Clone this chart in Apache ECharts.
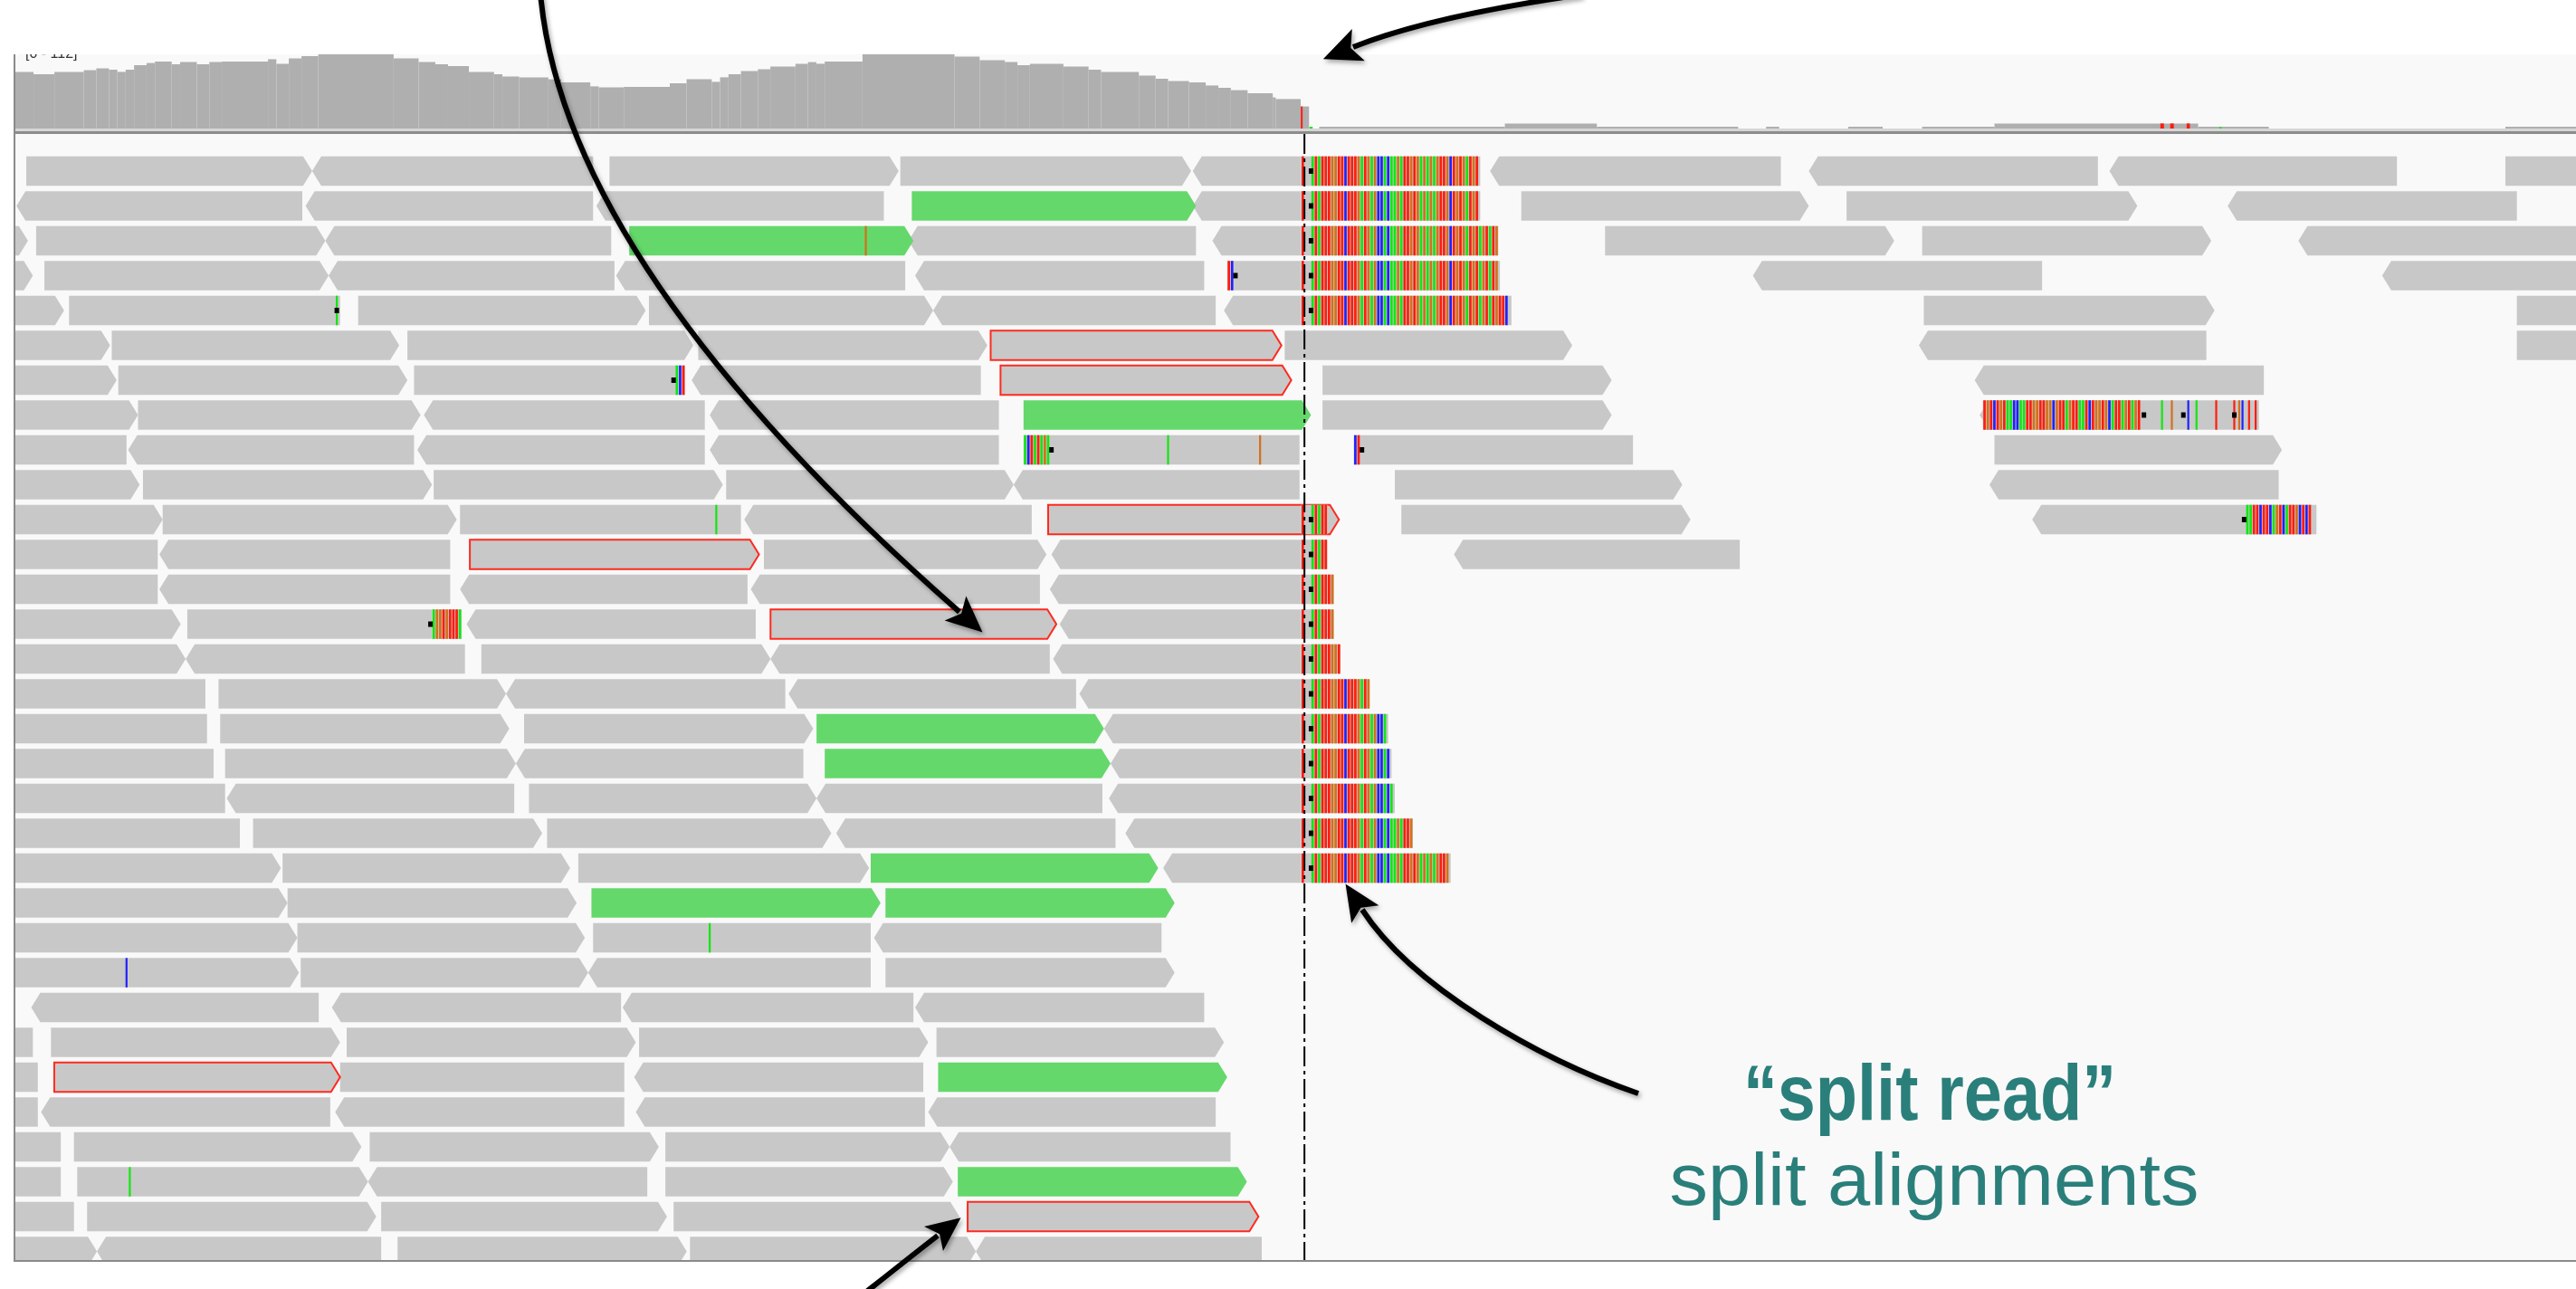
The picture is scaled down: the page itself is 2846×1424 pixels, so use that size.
<!DOCTYPE html>
<html><head><meta charset="utf-8">
<script src="https://cdn.jsdelivr.net/npm/echarts@6/dist/echarts.min.js"></script>
<style>html,body{margin:0;padding:0;background:#fff;}#c{width:2846px;height:1424px;}</style>
</head><body><div id="c"></div>
<script>
// ---------------- data (positions in window units, rows 0 = top) ----------------
const X_MIN = 8.8, X_MAX = 1568;
const BREAKPOINT = 794;
const BW = 2; // one base in window units

// coverage track: step boundaries and depth of each step
const COV_X = [9.2,20.4,33.1,51,58.6,66.3,71.4,76.5,81.6,89.2,94.3,104.5,109.6,119.8,127.4,135,163.1,168.2,175.8,183.5,193.7,239.6,254.8,265,272.7,285.4,300.7,305.8,316,333.8,341.5,359.3,364.4,379.7,407.7,417.9,433.2,438.3,443.4,451,461.3,468.9,484.2,491.8,496.9,502,525,581,596.3,611.6,619.3,626.9,647.3,662.6,670.2,693.2,703.4,711,723.7,733.9,741.6,749.2,759.4,774.7,776.5,791.7,796.8,803,916,972,1058,1075,1083,1125,1146,1170,1214,1338,1381,1525,1568];
const COV_DEPTH = [31.3,30,31.3,32.2,33.3,32.5,31.3,32.5,35,36.2,37,35.5,36.7,35.5,36.7,37,38.3,35.8,38.8,40,42,38.8,36.7,35.5,34.5,31.3,30,28.8,28.3,27.2,25.5,23.3,22.8,23,25,27.2,25.8,28.3,30,31.7,32.8,34.2,35.8,36.7,35.8,37,42,39.7,37.8,36.7,35,35.8,34.2,32.5,31.3,29.2,27.5,26.2,25.5,23.8,22.5,21.2,19.5,17.2,16.3,12.2,0,1,2.8,1,0,1,0,1,0,1,2.8,1,0,1];
const COV_MAX = 41;
// coloured allele bars in coverage: [pos, width, depth, base]
const COV_ALLELES = [[791.8,1.1,12.2,'T'],[797,2,1,'A'],[1315,2.2,2.8,'T'],[1321,2.2,2.8,'T'],[1331,2,2.8,'T'],[1351,1.2,1,'A']];

// reads: [row, start, end, strand(1 right,-1 left,0 none)]
const READS_GREY = [
[0,16,190,1],[0,190,361,-1],[0,371,547,1],[0,548,725,1],[0,726,792,-1],[0,907,1084,-1],[0,1101,1277,-1],[0,1284,1459,-1],[0,1525,1600,0],
[1,10,184,-1],[1,186,361,-1],[1,363,538,-1],[1,726,792,-1],[1,926,1101,1],[1,1124,1301,1],[1,1356,1532,-1],
[2,-20,17,1],[2,22,198,1],[2,198,372,-1],[2,553,728,-1],[2,738,792,-1],[2,977,1153,1],[2,1170,1346,1],[2,1399,1600,-1],
[3,-20,20,1],[3,27,200,1],[3,200,374,-1],[3,375,551,-1],[3,557,733,-1],[3,751,792,0],[3,1067,1243,-1],[3,1450,1600,-1],
[4,-20,39,1],[4,42,207,0],[4,218,393,1],[4,395,568,1],[4,568,740,-1],[4,745,792,-1],[4,1171,1348,1],[4,1532,1600,0],
[5,-20,67,1],[5,68,243,1],[5,248,422,1],[5,425,601,1],[5,782,957,1],[5,1168,1343,-1],[5,1532,1600,0],
[6,-20,71,1],[6,72,248,1],[6,252,411,0],[6,421,597,-1],[6,805,981,1],[6,1202,1378,-1],
[7,-20,84,1],[7,84,256,1],[7,258,429,-1],[7,432,608,-1],[7,805,981,1],[7,1205,1375,-1],
[8,-20,77,0],[8,78,252,-1],[8,254,429,-1],[8,432,608,-1],[8,639,791,0],[8,828,994,0],[8,1214,1389,1],
[9,-20,85,1],[9,87,263,1],[9,264,440,1],[9,442,617,1],[9,617,791,-1],[9,849,1024,1],[9,1211,1387,-1],
[10,-20,99,1],[10,99,278,1],[10,280,451,0],[10,453,628,-1],[10,853,1029,1],[10,1237,1410,-1],
[11,-20,96,0],[11,97,274,-1],[11,465,637,1],[11,640,792,-1],[11,885,1059,-1],
[12,-20,96,0],[12,97,274,-1],[12,280,455,-1],[12,457,633,-1],[12,639,792,-1],
[13,-20,110,1],[13,114,263,0],[13,284,460,-1],[13,645,792,-1],
[14,-20,113,1],[14,113,283,-1],[14,293,469,1],[14,469,639,-1],[14,641,792,-1],
[15,-20,125,0],[15,133,308,1],[15,308,478,-1],[15,480,655,-1],[15,657,792,-1],
[16,-20,126,0],[16,134,310,1],[16,319,495,1],[16,672,792,-1],
[17,-20,130,0],[17,137,314,1],[17,314,489,-1],[17,676,792,-1],
[18,-20,137,0],[18,138,313,-1],[18,322,497,1],[18,497,671,-1],[18,675,792,-1],
[19,-20,146,0],[19,154,330,1],[19,333,506,1],[19,509,679,-1],[19,685,792,-1],
[20,-20,171,1],[20,172,347,1],[20,352,529,1],[20,708,792,-1],
[21,-20,175,1],[21,175,351,1],
[22,-20,181,1],[22,181,356,1],[22,361,530,0],[22,532,707,-1],
[23,-20,182,1],[23,183,358,1],[23,358,530,-1],[23,539,715,1],
[24,19,194,-1],[24,202,378,-1],[24,379,556,-1],[24,557,733,-1],
[25,-20,20,0],[25,31,207,1],[25,211,387,1],[25,389,565,1],[25,570,745,1],
[26,-20,23,0],[26,207,380,0],[26,386,562,-1],
[27,-20,23,0],[27,25,201,-1],[27,204,380,-1],[27,387,563,-1],[27,565,740,-1],
[28,-20,37,0],[28,45,220,1],[28,225,401,1],[28,405,578,1],[28,578,749,-1],
[29,-20,37,0],[29,47,224,1],[29,224,394,-1],[29,405,580,1],
[30,-20,45,0],[30,53,229,1],[30,232,406,1],[30,410,584,1],
[31,-20,59,1],[31,59,232,-1],[31,242,418,1],[31,420,594,1],[31,594,768,-1]
];
const READS_GREEN = [[1,555,728,1],[2,383,556,1],[7,623,798,1],[16,497,672,1],[17,502,676,1],[20,530,705,1],[21,360,536,1],[21,539,715,1],[26,571,747,1],[29,583,759,1]];
const READS_RED = [[5,603,780,1],[6,609,786,1],[10,638,815,1],[11,286,462,1],[13,469,643,1],[26,33,207,1],[30,589,766,1]];

// split reads: soft-clipped sequence after the breakpoint
const SPLIT_START = 792;
const SPLIT_SEQ = "T--ATATTTGGTTCTTTGATGAGCCACAAGATTGTGAGAGAGTTGCTGTGATGTAGTATGTTC";
const SPLIT_ROWS = [0,1,2,3,4,10,11,12,13,14,15,16,17,18,19,20];
const SPLIT_ENDS = [901,901,912,913,920,808,808,812,812,816,833,845,847,849,860,883];
const SPLIT_MARK = 798;
// other soft clips: [row, start, sequence]
const CLIPS = [[3,747,'TC'],[6,411,'ACT'],[8,623,'ACTATAGA'],[8,824,'CT'],[13,263,'AGGTGTTTA'],
  [7,1207,'TGTCTGTAACCAATTGGTTGGCGTTAGTTAATCTGGTGCATTAGTAGT'],[10,1367,'AATTCTTCAGTCATTGCTCT']];
// single-base mismatches: [row, pos, base]
const MISMATCHES = [[2,527,'G'],[4,205,'A'],[8,711,'A'],[8,767,'G'],[10,436,'A'],[22,432,'A'],[23,77,'C'],[29,79,'A'],
  [7,1316,'A'],[7,1322,'G'],[7,1332,'C'],[7,1337,'A'],[7,1349,'T'],[7,1360,'T'],[7,1363,'G'],[7,1365,'C'],[7,1369,'T'],[7,1373,'T']];
// insertion / clip-junction markers: [row, pos]
const MARKS = [[3,752],[4,205],[6,410],[8,640],[8,829],[13,262],[7,1305],[7,1329],[7,1360],[10,1366]];

const BASE_COLORS = {A:'#12e612', C:'#2020ff', G:'#d2711a', T:'#ff1c0c'};
const GREY = '#c8c8c8', GREEN = '#65d86b', RED = '#ff2a1f';

// ---------------- build items ----------------
const covItems = COV_DEPTH.map((d, i) => [COV_X[i], COV_X[i + 1], d]);
const clipItems = SPLIT_ROWS.map((r, i) => ({row: r, start: SPLIT_START, end: SPLIT_ENDS[i], seq: SPLIT_SEQ}))
  .concat(CLIPS.map(c => ({row: c[0], start: c[1], end: c[1] + c[2].length * BW, seq: c[2]})));
const markItems = SPLIT_ROWS.map(r => [r, SPLIT_MARK]).concat(MARKS);

function rowGeom(api, row) {
  const pitch = Math.abs(api.size([0, 1])[1]);
  const yc = api.coord([0, row])[1];
  const h = pitch * 0.845;
  return {yc, top: yc - h / 2, h};
}
function readRenderer(fill, stroke) {
  return function (params, api) {
    const row = api.value(0), s = api.value(1), e = api.value(2), strand = api.value(3);
    const g = rowGeom(api, row);
    const x0 = api.coord([s, row])[0], x1 = api.coord([e, row])[0];
    const top = g.top, bot = g.top + g.h, yc = g.yc;
    const tip = Math.min(10, (x1 - x0) / 3);
    let pts;
    if (strand > 0) pts = [[x0, top], [x1 - tip, top], [x1, yc], [x1 - tip, bot], [x0, bot]];
    else if (strand < 0) pts = [[x0 + tip, top], [x1, top], [x1, bot], [x0 + tip, bot], [x0, yc]];
    else pts = [[x0, top], [x1, top], [x1, bot], [x0, bot]];
    return {type: 'polygon', shape: {points: pts},
      style: {fill: fill, stroke: stroke || null, lineWidth: stroke ? 2 : 0}};
  };
}
function readSeries(data, fill, stroke) {
  return {type: 'custom', xAxisIndex: 1, yAxisIndex: 1, clip: true, z: 2,
    renderItem: readRenderer(fill, stroke), encode: {x: [1, 2], y: 0}, data: data};
}

const option = {
  animation: false,
  backgroundColor: '#ffffff',
  grid: [
    {left: 16, right: 0, top: 60, height: 82},
    {left: 16, right: 0, top: 148, bottom: 31}
  ],
  xAxis: [
    {type: 'value', gridIndex: 0, min: X_MIN, max: X_MAX, show: false},
    {type: 'value', gridIndex: 1, min: X_MIN, max: X_MAX, show: false}
  ],
  yAxis: [
    {type: 'value', gridIndex: 0, min: 0, max: COV_MAX, show: false},
    {type: 'value', gridIndex: 1, min: -1.064, max: 31.27, inverse: true, show: false}
  ],
  graphic: [
    {type: 'rect', z: 0, shape: {x: 16, y: 60, width: 2830, height: 1333}, style: {fill: '#f9f9f9'}},
    {type: 'text', z: 40, x: 28, y: 68, style: {text: '[0 - 112]', fontSize: 16, fontFamily: 'Liberation Sans, Arial, sans-serif', fill: '#333', verticalAlign: 'bottom', textVerticalAlign: 'bottom'}},
    {type: 'rect', z: 45, shape: {x: 0, y: 0, width: 2846, height: 60}, style: {fill: '#ffffff'}},
    {type: 'rect', z: 50, shape: {x: 16, y: 142, width: 2830, height: 3}, style: {fill: '#d6d6d6'}},
    {type: 'rect', z: 50, shape: {x: 16, y: 145, width: 2830, height: 3}, style: {fill: '#8c8c8c'}},
    {type: 'rect', z: 50, shape: {x: 15, y: 60, width: 2, height: 1334}, style: {fill: '#8a8a8a'}},
    {type: 'rect', z: 50, shape: {x: 15, y: 1392, width: 2831, height: 2}, style: {fill: '#8a8a8a'}}
  ],
  series: [
    {type: 'custom', xAxisIndex: 0, yAxisIndex: 0, clip: true, z: 2, data: covItems, encode: {x: [0, 1], y: 2},
      renderItem: function (params, api) {
        const a = api.coord([api.value(0), api.value(2)]), b = api.coord([api.value(1), 0]);
        return {type: 'rect', shape: {x: a[0], y: a[1], width: b[0] - a[0], height: b[1] - a[1]}, style: {fill: '#afafaf'}};
      }},
    {type: 'custom', xAxisIndex: 0, yAxisIndex: 0, clip: true, z: 3, data: COV_ALLELES.map(c => [c[0], c[1], c[2]]), encode: {x: 0, y: 2},
      renderItem: function (params, api) {
        const c = COV_ALLELES[params.dataIndex];
        const a = api.coord([c[0], c[2]]), b = api.coord([c[0] + c[1], 0]);
        return {type: 'rect', shape: {x: a[0], y: a[1], width: Math.max(1.5, b[0] - a[0]), height: b[1] - a[1]}, style: {fill: BASE_COLORS[c[3]]}};
      }},
    readSeries(READS_GREY, GREY, null),
    readSeries(READS_GREEN, GREEN, null),
    readSeries(READS_RED, GREY, RED),
    {type: 'custom', xAxisIndex: 1, yAxisIndex: 1, clip: true, z: 3,
      data: clipItems.map(c => [c.row, c.start, c.end]), encode: {x: [1, 2], y: 0},
      renderItem: function (params, api) {
        const c = clipItems[params.dataIndex];
        const g = rowGeom(api, c.row);
        const x0 = api.coord([c.start, c.row])[0], x1 = api.coord([c.end, c.row])[0];
        const bw = api.coord([c.start + BW, c.row])[0] - x0;
        const children = [{type: 'rect', shape: {x: x0, y: g.top, width: x1 - x0, height: g.h}, style: {fill: GREY}}];
        for (let i = 0; i < c.seq.length; i++) {
          const xs = x0 + i * bw;
          if (xs + bw * 0.5 > x1) break;
          const col = BASE_COLORS[c.seq[i]];
          if (!col) continue;
          children.push({type: 'rect', shape: {x: xs + bw * 0.12, y: g.top, width: bw * 0.74, height: g.h}, style: {fill: col}});
        }
        return {type: 'group', children: children};
      }},
    {type: 'custom', xAxisIndex: 1, yAxisIndex: 1, clip: true, z: 4,
      data: MISMATCHES.map(m => [m[0], m[1]]), encode: {x: 1, y: 0},
      renderItem: function (params, api) {
        const m = MISMATCHES[params.dataIndex];
        const g = rowGeom(api, m[0]);
        const x = api.coord([m[1], m[0]])[0];
        return {type: 'rect', shape: {x: x - 1.1, y: g.top, width: 2.2, height: g.h}, style: {fill: BASE_COLORS[m[2]]}};
      }},
    {type: 'custom', xAxisIndex: 1, yAxisIndex: 1, clip: true, z: 5,
      data: markItems, encode: {x: 1, y: 0},
      renderItem: function (params, api) {
        const row = api.value(0), pos = api.value(1);
        const g = rowGeom(api, row);
        const x = api.coord([pos, row])[0];
        return {type: 'rect', shape: {x: x - 2.5, y: g.yc - 3, width: 5, height: 6}, style: {fill: '#000'}};
      }},
    {type: 'custom', xAxisIndex: 1, yAxisIndex: 1, clip: false, z: 6,
      data: [[BREAKPOINT, 0]], encode: {x: 0, y: 1},
      renderItem: function (params, api) {
        const x = api.coord([api.value(0), 0])[0];
        const cs = params.coordSys;
        return {type: 'line', shape: {x1: x, y1: cs.y, x2: x, y2: cs.y + cs.height},
          style: {stroke: '#000', lineWidth: 2, lineDash: [22, 5, 4, 5]}};
      }}
  ]
};

// ---------------- annotation arrows and text ----------------
function head(tip, dir, len, hw) {
  const L = Math.hypot(dir[0], dir[1]); const ux = dir[0] / L, uy = dir[1] / L;
  const bx = tip[0] - ux * len, by = tip[1] - uy * len;
  const nx = tip[0] - ux * len * 0.78, ny = tip[1] - uy * len * 0.78;
  return [[tip[0], tip[1]], [bx - uy * hw, by + ux * hw], [nx, ny], [bx + uy * hw, by - ux * hw]];
}
const shadow = {shadowBlur: 5, shadowColor: 'rgba(0,0,0,0.35)', shadowOffsetX: 2, shadowOffsetY: 3};
function arrow(p0, c1, c2, p3, headLen) {
  const dir = [p3[0] - c2[0], p3[1] - c2[1]];
  const L = Math.hypot(dir[0], dir[1]);
  const tip = [p3[0] + dir[0] / L * headLen * 0.85, p3[1] + dir[1] / L * headLen * 0.85];
  return [
    {type: 'bezierCurve', z: 100, shape: {x1: p0[0], y1: p0[1], cpx1: c1[0], cpy1: c1[1], cpx2: c2[0], cpy2: c2[1], x2: p3[0], y2: p3[1]},
      style: Object.assign({stroke: '#000', lineWidth: 6, fill: 'none'}, shadow)},
    {type: 'polygon', z: 101, shape: {points: head(tip, dir, headLen, headLen * 0.45)}, style: Object.assign({fill: '#000'}, shadow)}
  ];
}
option.graphic = option.graphic
  .concat(arrow([597, -8], [615, 200], [780, 430], [1060, 676], 40))
  .concat(arrow([1748, -6], [1650, 8], [1555, 28], [1495, 52], 42))
  .concat(arrow([1810, 1208], [1700, 1170], [1560, 1090], [1505, 1005], 40))
  .concat(arrow([946, 1436], [975, 1413], [1005, 1389], [1036, 1365], 38))
  .concat([
    {type: 'text', z: 110, x: 2132, y: 1213, scaleX: 0.86,
      style: {text: '\u201Csplit read\u201D', fontSize: 88, fontWeight: 'bold', fontFamily: 'Liberation Sans, Arial, sans-serif',
        fill: '#2a7f7b', align: 'center', verticalAlign: 'middle', textAlign: 'center', textVerticalAlign: 'middle'}},
    {type: 'text', z: 110, x: 2137, y: 1308, scaleX: 1.035,
      style: {text: 'split alignments', fontSize: 82, fontFamily: 'Liberation Sans, Arial, sans-serif',
        fill: '#2a7f7b', align: 'center', verticalAlign: 'middle', textAlign: 'center', textVerticalAlign: 'middle'}}
  ]);

const chart = echarts.init(document.getElementById('c'), null, {renderer: 'canvas'});
chart.setOption(option);
</script></body></html>
